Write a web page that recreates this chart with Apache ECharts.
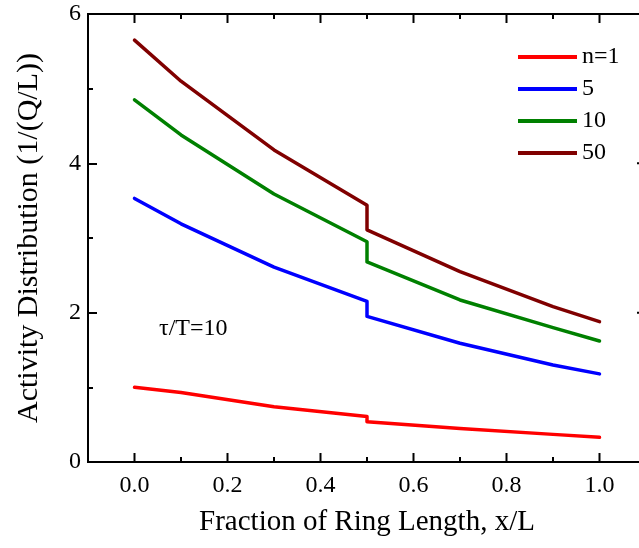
<!DOCTYPE html>
<html>
<head>
<meta charset="utf-8">
<script src="https://cdn.jsdelivr.net/npm/echarts@6/dist/echarts.min.js"></script>
<style>
html,body{margin:0;padding:0;background:#fff;}
#chart{width:639px;height:548px;}
</style>
</head>
<body>
<div id="chart"></div>
<script>
// ---- data ----
var xValues = [0, 0.1, 0.3, 0.5, 0.5, 0.7, 0.9, 1.0];
var seriesNames = ['n=1', '5', '10', '50'];
var n1  = [1.00, 0.93, 0.74, 0.61, 0.54, 0.45, 0.37, 0.33];
var n5  = [3.53, 3.19, 2.61, 2.15, 1.95, 1.59, 1.30, 1.18];
var n10 = [4.85, 4.38, 3.59, 2.95, 2.68, 2.17, 1.80, 1.62];
var n50 = [5.65, 5.10, 4.18, 3.44, 3.11, 2.55, 2.08, 1.88];
var xTickLabels = ['0.0', '0.2', '0.4', '0.6', '0.8', '1.0'];
var yTickLabels = ['0', '2', '4', '6'];
var xMajorTicks = [0, 0.2, 0.4, 0.6, 0.8, 1.0];
var xMinorTicks = [0.1, 0.3, 0.5, 0.7, 0.9];
var yMajorTicks = [0, 2, 4, 6];
var yMinorTicks = [1, 3, 5];
var annotation = '\u03c4/T=10';

var X_MIN = -0.1, X_MAX = 1.1, Y_MIN = 0, Y_MAX = 6;

var FONT = '"Liberation Serif", "Times New Roman", serif';
var colors = ['#ff0000', '#0000ff', '#008000', '#800000'];
var allSeries = [n1, n5, n10, n50];

function pairs(ys) { return xValues.map(function (x, i) { return [x, ys[i]]; }); }

var chart = echarts.init(document.getElementById('chart'), null, {renderer: 'canvas'});

var option = {
  backgroundColor: '#fff',
  animation: false,
  grid: {left: 88, top: 14, right: -7, bottom: 86, containLabel: false, outerBoundsMode: 'none',
         show: true, borderColor: '#000', borderWidth: 2, backgroundColor: 'transparent'},
  legend: {
    orient: 'vertical', left: 513, top: 40,
    icon: 'rect', itemWidth: 59, itemHeight: 4, itemGap: 8,
    textStyle: {fontFamily: FONT, fontSize: 24, color: '#000', lineHeight: 24},
    data: seriesNames
  },
  xAxis: [{
    type: 'value', position: 'bottom', min: X_MIN, max: X_MAX, interval: 0.1,
    axisLine: {show: true, onZero: false, lineStyle: {color: '#000', width: 2}},
    axisTick: {show: false},
    splitLine: {show: false},
    axisLabel: {
      margin: 12, fontFamily: FONT, fontSize: 24, color: '#000',
      formatter: function (v) {
        var r = Math.round(v * 10);
        if (r < 0 || r > 10 || r % 2 !== 0) return '';
        return xTickLabels[r / 2];
      }
    },
    name: 'Fraction of Ring Length, x/L', nameLocation: 'middle', nameGap: 46,
    nameTextStyle: {fontFamily: FONT, fontSize: 29, color: '#000', verticalAlign: 'top'}
  }],
  yAxis: [{
    type: 'value', position: 'left', min: Y_MIN, max: Y_MAX, interval: 2,
    axisLine: {show: true, onZero: false, lineStyle: {color: '#000', width: 2}},
    axisTick: {show: true, inside: true, length: 9, lineStyle: {color: '#000', width: 2}},
    minorTick: {show: true, splitNumber: 2, length: 5, lineStyle: {color: '#000', width: 2}},
    splitLine: {show: false}, minorSplitLine: {show: false},
    axisLabel: {
      margin: 7, fontFamily: FONT, fontSize: 24, color: '#000',
      formatter: function (v) { return yTickLabels[Math.round(v / 2)]; }
    },
    name: 'Activity Distribution (1/(Q/L))', nameLocation: 'middle', nameGap: 44,
    nameTextStyle: {fontFamily: FONT, fontSize: 30, color: '#000'}
  }],
  series: seriesNames.map(function (name, i) {
    return {
      name: name, type: 'line', xAxisIndex: 0, yAxisIndex: 0,
      data: pairs(allSeries[i]),
      showSymbol: false, symbol: 'none',
      lineStyle: {color: colors[i], width: 3.5, join: 'round', cap: 'round'},
      itemStyle: {color: colors[i]},
      z: 2 + i
    };
  })
};
chart.setOption(option);

// inward frame ticks on the bottom, top and right edges, placed through the chart's own scales
var finder = {xAxisIndex: 0, yAxisIndex: 0};
var tickStyle = {stroke: '#000', lineWidth: 2};
var graphics = [{
  type: 'text', left: 159, top: 317, z: 10,
  style: {text: annotation, font: '24px ' + FONT, fill: '#000'}
}];
function addXTicks(vals, len) {
  vals.forEach(function (v) {
    var b = chart.convertToPixel(finder, [v, Y_MIN]);
    var t = chart.convertToPixel(finder, [v, Y_MAX]);
    graphics.push({type: 'line', z: 10, shape: {x1: b[0], y1: b[1], x2: b[0], y2: b[1] - len}, style: tickStyle});
    graphics.push({type: 'line', z: 10, shape: {x1: t[0], y1: t[1], x2: t[0], y2: t[1] + len}, style: tickStyle});
  });
}
function addRightTicks(vals, len) {
  vals.forEach(function (v) {
    var p = chart.convertToPixel(finder, [X_MAX, v]);
    graphics.push({type: 'line', z: 10, shape: {x1: p[0], y1: p[1], x2: p[0] - len, y2: p[1]}, style: tickStyle});
  });
}
addXTicks(xMajorTicks, 9);
addXTicks(xMinorTicks, 5);
addRightTicks(yMajorTicks, 9);
addRightTicks(yMinorTicks, 5);
chart.setOption({graphic: graphics});
</script>
</body>
</html>
